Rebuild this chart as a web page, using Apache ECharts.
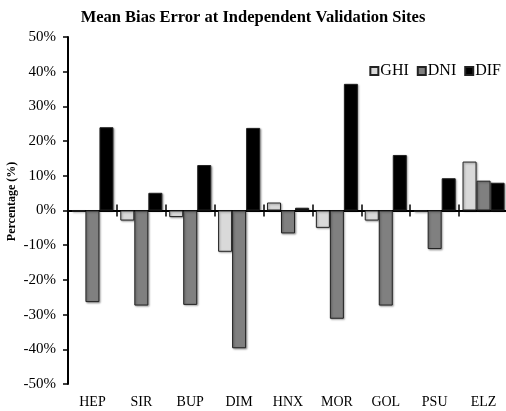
<!DOCTYPE html>
<html>
<head>
<meta charset="utf-8">
<script src="https://cdn.jsdelivr.net/npm/echarts@6/dist/echarts.min.js"></script>
<style>
  html, body { margin: 0; padding: 0; background: #fff; }
  #chart { width: 506px; height: 411px; }
</style>
</head>
<body>
<div id="chart"></div>
<script>
var sites = ['HEP', 'SIR', 'BUP', 'DIM', 'HNX', 'MOR', 'GOL', 'PSU', 'ELZ'];
var ghi = [-0.3, -2.9, -1.9, -11.9, 2.3, -5.0, -2.9, -0.4, 14.1];
var dni = [-26.4, -27.4, -27.2, -39.7, -6.6, -31.2, -27.4, -11.1, 8.6];
var dif = [24.0, 5.1, 13.1, 23.8, 0.8, 36.5, 16.0, 9.3, 8.0];

var font = 'Liberation Serif';
var chart = echarts.init(document.getElementById('chart'));

function bar(name, data, color) {
    return {
        name: name,
        type: 'bar',
        data: data,
        barGap: '0%',
        barCategoryGap: '14%',
        itemStyle: {
            color: color,
            borderColor: '#222',
            borderWidth: 1,
            shadowColor: 'rgba(0,0,0,0.35)',
            shadowBlur: 2,
            shadowOffsetX: 1,
            shadowOffsetY: 1
        }
    };
}

// zero line axis; drawn twice so the ticks cross the line
function zeroAxis(inside, yIdx) {
    return {
        type: 'category',
        data: sites,
        position: 'bottom',
        axisLine: { onZero: true, onZeroAxisIndex: yIdx, lineStyle: { color: '#000', width: 2 } },
        axisTick: { show: true, inside: inside, length: 6, lineStyle: { color: '#000', width: 1.5 } },
        axisLabel: { show: false }
    };
}

var option = {
    animation: false,
    title: {
        text: 'Mean Bias Error at Independent Validation Sites',
        left: 'center',
        top: 4,
        textStyle: { fontFamily: font, fontSize: 16.5, fontWeight: 'bold', color: '#000' }
    },
    legend: {
        right: 0,
        top: 58,
        itemWidth: 8,
        itemHeight: 8,
        itemGap: 8,
        icon: 'rect',
        textStyle: { fontFamily: font, fontSize: 16, color: '#000', padding: [0, 0, 0, -3] },
        data: ['GHI', 'DNI', 'DIF']
    },
    grid: { left: 68, top: 37, width: 440, height: 347, outerBoundsMode: 'none' },
    xAxis: [
        {
            type: 'category',
            data: sites,
            position: 'bottom',
            axisLine: { show: false, onZero: false },
            axisTick: { show: false },
            axisLabel: { fontFamily: font, fontSize: 14, color: '#000', margin: 11 }
        },
        zeroAxis(false, 0),
        zeroAxis(true, 1)
    ],
    yAxis: [
        {
            type: 'value',
            min: -50,
            max: 50,
            interval: 10,
            name: 'Percentage (%)',
            nameLocation: 'middle',
            nameGap: 50,
            nameMoveOverlap: false,
            nameTextStyle: { fontFamily: font, fontSize: 12, fontWeight: 'bold', color: '#000', padding: [0, 0, 0, 18] },
            axisLine: { show: true, onZero: false, lineStyle: { color: '#000', width: 2 } },
            axisTick: { show: true, length: 5, lineStyle: { color: '#000', width: 1.5 } },
            splitLine: { show: false },
            axisLabel: { fontFamily: font, fontSize: 15, color: '#000', margin: 12, formatter: '{value}%' }
        },
        {
            type: 'value',
            min: -50,
            max: 50,
            interval: 10,
            position: 'left',
            axisLine: { show: false, onZero: false },
            axisTick: { show: false },
            axisLabel: { show: false },
            splitLine: { show: false }
        }
    ],
    series: [
        bar('GHI', ghi, '#d9d9d9'),
        bar('DNI', dni, '#808080'),
        bar('DIF', dif, '#000000')
    ]
};
chart.setOption(option);
</script>
</body>
</html>
